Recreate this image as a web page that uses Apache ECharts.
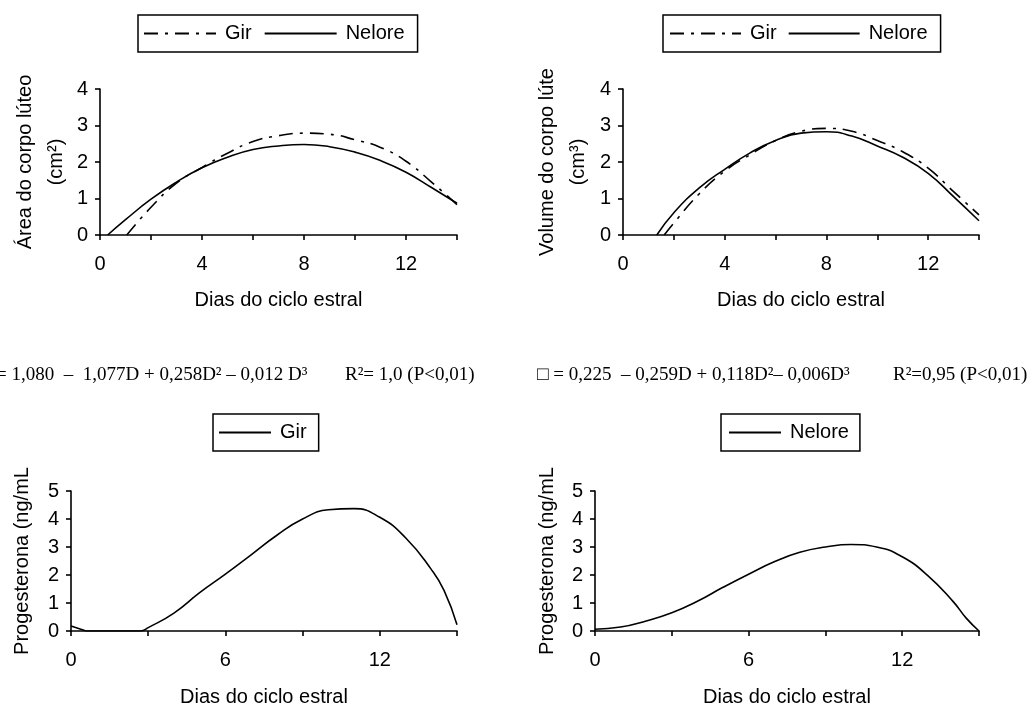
<!DOCTYPE html>
<html>
<head>
<meta charset="utf-8">
<script src="https://cdn.jsdelivr.net/npm/echarts@6/dist/echarts.min.js"></script>
<style>
html,body{margin:0;padding:0;background:#fff;}
#chart{width:1031px;height:708px;}
</style>
</head>
<body>
<div id="chart"></div>
<script>
// ---- Data ----
// Top-left: Área do corpo lúteo (cm²)
const areaGirDays = [1.05, 2, 3, 4, 5, 6, 7, 8, 9, 10, 11, 12, 13, 14];
const areaGirValues = [0, 0.76, 1.42, 1.85, 2.24, 2.56, 2.72, 2.79, 2.76, 2.61, 2.40, 2.02, 1.45, 0.83];
const areaNeloreDays = [0.3, 1, 2, 3, 4, 5, 6, 7, 8, 9, 10, 11, 12, 13, 14];
const areaNeloreValues = [0, 0.42, 0.98, 1.45, 1.84, 2.13, 2.34, 2.44, 2.48, 2.42, 2.27, 2.04, 1.72, 1.30, 0.87];

// Top-right: Volume do corpo lúteo (cm³)
const volGirDays = [1.62, 2, 3, 4, 5, 6, 7, 8, 9, 10, 11, 12, 13, 14];
const volGirValues = [0, 0.33, 1.13, 1.75, 2.20, 2.59, 2.84, 2.92, 2.84, 2.59, 2.28, 1.83, 1.19, 0.55];
const volNeloreDays = [1.33, 2, 3, 4, 5, 6, 7, 8, 9, 10, 11, 12, 13, 14];
const volNeloreValues = [0, 0.61, 1.29, 1.80, 2.25, 2.59, 2.79, 2.83, 2.71, 2.44, 2.13, 1.69, 1.05, 0.39];

// Bottom-left: Progesterona Gir (ng/mL)
const progGirDays = [0, 0.5, 0.6, 2.7, 3, 4, 5, 6, 7, 8, 9, 10, 11, 12, 13, 14, 14.5, 15];
const progGirValues = [0.18, 0.03, 0, 0, 0.12, 0.64, 1.37, 2.03, 2.72, 3.42, 4.0, 4.33, 4.37, 4.06, 3.33, 2.2, 1.44, 0.22];

// Bottom-right: Progesterona Nelore (ng/mL)
const progNeloreDays = [0, 1, 2, 3, 4, 5, 6, 7, 8, 9, 10, 11, 12, 13, 14, 14.5, 15];
const progNeloreValues = [0.06, 0.14, 0.36, 0.65, 1.06, 1.56, 2.03, 2.47, 2.81, 3.0, 3.09, 3.0, 2.65, 1.98, 1.04, 0.46, 0];

// Axis ticks / labels
const areaXTicks = { min: 0, max: 14, interval: 2, labelEvery: 4 };
const areaYTicks = { min: 0, max: 4, interval: 1 };
const progXTicks = { min: 0, max: 15, interval: 3, labelEvery: 6 };
const progYTicks = { min: 0, max: 5, interval: 1 };

const xTitle = 'Dias do ciclo estral';
const yTitles = ['Área do corpo lúteo\n(cm²)', 'Volume do corpo lúte\n(cm³)', 'Progesterona (ng/mL', 'Progesterona (ng/mL'];
const eqLeft = ['= 1,080  –  1,077D + 0,258D² – 0,012 D³', 'R²= 1,0 (P<0,01)'];
const eqRight = ['□ = 0,225  – 0,259D + 0,118D²– 0,006D³', 'R²=0,95 (P<0,01)'];

// ---- Build ----
const FONT = '"Liberation Sans", Arial, sans-serif';
const FS = 20;
function zip(a, b) { return a.map((d, i) => [d, b[i]]); }

const grids = [
  { left: 100, top: 89, width: 357, height: 146 },
  { left: 623, top: 89, width: 356, height: 146 },
  { left: 71, top: 491, width: 386, height: 144 },
  { left: 595, top: 491, width: 384, height: 144 }
];

function xAxis(gi, t, gap) {
  return {
    type: 'value', gridIndex: gi, min: t.min, max: t.max, interval: t.interval,
    axisLine: { show: true, lineStyle: { color: '#000', width: 1.6 } },
    axisTick: { show: true, length: 5, lineStyle: { color: '#000', width: 1.6 } },
    splitLine: { show: false },
    axisLabel: {
      color: '#000', fontSize: FS, fontFamily: FONT, margin: 19,
      showMaxLabel: true,
      formatter: v => (v % t.labelEvery === 0 && v < t.max) ? String(v) : ''
    },
    name: xTitle, nameLocation: 'middle', nameGap: gap,
    nameTextStyle: { color: '#000', fontSize: FS, fontFamily: FONT }
  };
}
function yAxis(gi, t, name, gap, lh) {
  return {
    type: 'value', gridIndex: gi, min: t.min, max: t.max, interval: t.interval,
    axisLine: { show: true, lineStyle: { color: '#000', width: 1.6 } },
    axisTick: { show: true, length: 5, lineStyle: { color: '#000', width: 1.6 } },
    splitLine: { show: false },
    axisLabel: { color: '#000', fontSize: FS, fontFamily: FONT, margin: 12 },
    name: name, nameLocation: 'middle', nameGap: gap, nameRotate: 90,
    nameTextStyle: { color: '#000', fontSize: FS, fontFamily: FONT, lineHeight: lh }
  };
}
const dashDot = [14, 7, 3, 7];
function line(name, gi, data, dashed) {
  return {
    name: name, type: 'line', xAxisIndex: gi, yAxisIndex: gi, data: data,
    symbol: 'none', smooth: 0.5, clip: true,
    lineStyle: { color: '#000', width: 1.6, type: dashed ? dashDot : 'solid' },
    itemStyle: { color: '#000' }
  };
}
function legend(left, top, items, itemWidth, pad, gap) {
  return {
    left: left, top: top, orient: 'horizontal',
    data: items,
    itemWidth: itemWidth, itemHeight: 14, itemGap: gap,
    padding: pad,
    borderColor: '#000', borderWidth: 1.5, borderRadius: 0,
    selectedMode: false,
    itemStyle: { color: 'rgba(0,0,0,0)', borderColor: 'rgba(0,0,0,0)', borderWidth: 0, opacity: 0 },
    textStyle: { color: '#000', fontSize: FS, fontFamily: FONT, lineHeight: 23, padding: [0, 0, 0, 4] }
  };
}

const option = {
  animation: false,
  backgroundColor: '#fff',
  grid: grids,
  xAxis: [xAxis(0, areaXTicks, 55), xAxis(1, areaXTicks, 55), xAxis(2, progXTicks, 56), xAxis(3, progXTicks, 56)],
  yAxis: [yAxis(0, areaYTicks, yTitles[0], 28, 31), yAxis(1, areaYTicks, yTitles[1], 29, 31),
          yAxis(2, progYTicks, yTitles[2], 37, 23), yAxis(3, progYTicks, yTitles[3], 36, 23)],
  legend: [
    legend(138, 15, [{ name: 'Gir' }, { name: 'Nelore' }], 72, [7, 13, 7, 5], 12),
    legend(663, 15, [{ name: 'Gir' }, { name: 'Nelore' }], 71, [7, 13, 7, 6], 11),
    legend(213, 414, [{ name: 'Gir', lineStyle: { type: 'solid' } }], 52, [7, 12, 7, 5], 10),
    legend(721, 414, [{ name: 'Nelore' }], 52, [7, 11, 7, 7], 10)
  ],
  series: [
    line('Gir', 0, zip(areaGirDays, areaGirValues), true),
    line('Nelore', 0, zip(areaNeloreDays, areaNeloreValues), false),
    line('Gir', 1, zip(volGirDays, volGirValues), true),
    line('Nelore', 1, zip(volNeloreDays, volNeloreValues), false),
    line('Gir', 2, zip(progGirDays, progGirValues), false),
    line('Nelore', 3, zip(progNeloreDays, progNeloreValues), false)
  ],
  graphic: [
    { type: 'text', x: -4, y: 375, style: { text: eqLeft[0], font: '19px "Liberation Serif"', fill: '#000', verticalAlign: 'middle' } },
    { type: 'text', x: 345, y: 375, style: { text: eqLeft[1], font: '19px "Liberation Serif"', fill: '#000', verticalAlign: 'middle' } },
    { type: 'text', x: 537, y: 375, style: { text: eqRight[0], font: '19px "Liberation Serif"', fill: '#000', verticalAlign: 'middle' } },
    { type: 'text', x: 893, y: 375, style: { text: eqRight[1], font: '19px "Liberation Serif"', fill: '#000', verticalAlign: 'middle' } }
  ]
};

const chart = echarts.init(document.getElementById('chart'), null, { renderer: 'canvas' });
chart.setOption(option);
</script>
</body>
</html>
